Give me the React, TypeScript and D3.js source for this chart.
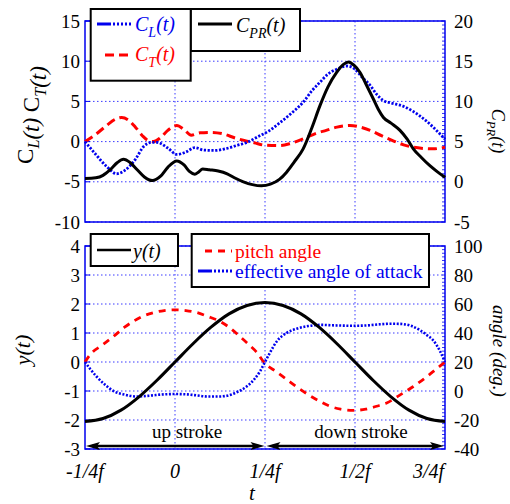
import React from "react";
import * as d3 from "d3";

// ---------- DATA (t in units of 1/f) ----------
const xTickVals = [-0.25, 0, 0.25, 0.5, 0.75];
const xTickLabels = ["-1/4f", "0", "1/4f", "1/2f", "3/4f"];
const topLeftTicks = [-10, -5, 0, 5, 10, 15];
const topRightTicks = [-5, 0, 5, 10, 15, 20];
const botLeftTicks = [-3, -2, -1, 0, 1, 2, 3, 4];
const botRightTicks = [-40, -20, 0, 20, 40, 60, 80, 100];

const CL: [number, number][] = [
  [-0.25, 0], [-0.22, -1.6], [-0.19, -3.1], [-0.162, -4.0], [-0.14, -3.6], [-0.11, -2.2],
  [-0.087, -0.6], [-0.065, -0.1], [-0.05, -0.1], [-0.02, -0.8], [0.005, -1.6], [0.03, -1.3],
  [0.055, -0.75], [0.08, -1.05], [0.11, -1.1], [0.14, -0.9], [0.17, -0.5], [0.2, -0.1],
  [0.23, 0.6], [0.26, 1.3], [0.29, 2.3], [0.32, 3.4], [0.356, 4.9], [0.38, 6.3], [0.403, 7.4],
  [0.425, 8.4], [0.449, 9.0], [0.477, 9.4], [0.5, 9.0], [0.52, 8.0], [0.542, 7.0], [0.56, 5.9],
  [0.579, 5.1], [0.6, 4.8], [0.634, 4.4], [0.66, 3.8], [0.68, 3.2], [0.7, 2.5], [0.717, 1.8],
  [0.735, 1.0], [0.75, 0.3],
];
const CT: [number, number][] = [
  [-0.25, 0], [-0.22, 0.9], [-0.19, 2.0], [-0.165, 2.8], [-0.148, 3.0], [-0.13, 2.7],
  [-0.11, 1.8], [-0.09, 0.7], [-0.075, 0.15], [-0.06, 0.0], [-0.04, 0.5], [-0.02, 1.4],
  [0.005, 2.0], [0.025, 1.5], [0.045, 0.8], [0.07, 1.1], [0.1, 1.15], [0.13, 1.0],
  [0.17, 0.4], [0.2, 0.05], [0.22, -0.15], [0.25, -0.45], [0.29, -0.5], [0.32, -0.25],
  [0.356, 0.34], [0.39, 1.0], [0.42, 1.4], [0.45, 1.8], [0.486, 2.0], [0.515, 1.8],
  [0.542, 1.4], [0.575, 0.7], [0.606, 0.1], [0.635, -0.4], [0.662, -0.7], [0.69, -0.85],
  [0.717, -0.9], [0.75, -0.7],
];
// C_PR on the right axis
const CPR: [number, number][] = [
  [-0.25, 0.4], [-0.22, 0.5], [-0.2, 0.8], [-0.18, 1.5], [-0.16, 2.4], [-0.143, 2.8],
  [-0.125, 2.4], [-0.105, 1.5], [-0.085, 0.6], [-0.063, 0.15], [-0.04, 0.7], [-0.02, 1.8],
  [0.005, 2.6], [0.025, 2.1], [0.04, 1.3], [0.055, 0.95], [0.065, 1.2], [0.077, 1.6],
  [0.095, 1.5], [0.12, 1.35], [0.145, 1.0], [0.165, 0.5], [0.19, 0.0], [0.215, -0.35],
  [0.24, -0.5], [0.265, -0.3], [0.29, 0.3], [0.31, 1.2], [0.33, 2.4], [0.356, 4.1],
  [0.38, 6.7], [0.403, 9.5], [0.425, 11.8], [0.449, 13.6], [0.468, 14.6], [0.482, 14.9],
  [0.497, 14.5], [0.514, 13.6], [0.53, 12.2], [0.551, 10.3], [0.565, 9.0], [0.579, 8.0],
  [0.6, 7.3], [0.625, 6.4], [0.645, 5.3], [0.662, 4.1], [0.685, 3.0], [0.708, 2.0],
  [0.73, 1.2], [0.75, 0.55],
];
const Y: [number, number][] = [
  [-0.25, -2.05], [-0.2, -1.95], [-0.15, -1.66], [-0.1, -1.2], [-0.05, -0.63], [0, 0],
  [0.05, 0.63], [0.1, 1.2], [0.15, 1.66], [0.2, 1.95], [0.25, 2.05], [0.3, 1.95],
  [0.35, 1.66], [0.4, 1.2], [0.45, 0.63], [0.5, 0], [0.55, -0.63], [0.6, -1.2],
  [0.65, -1.66], [0.7, -1.95], [0.75, -2.05],
];
const PITCH: [number, number][] = [
  [-0.25, 20], [-0.236, 25], [-0.2, 32], [-0.171, 37.6], [-0.14, 44], [-0.116, 48],
  [-0.09, 51.5], [-0.06, 54], [-0.03, 55.5], [0, 56], [0.03, 55.5], [0.062, 54],
  [0.09, 51.5], [0.125, 48], [0.15, 44], [0.18, 37.6], [0.205, 32], [0.226, 27],
  [0.25, 19], [0.28, 13.5], [0.31, 8], [0.34, 2.5], [0.37, -2.5], [0.403, -7.2],
  [0.43, -10.5], [0.46, -12.5], [0.495, -13.4], [0.53, -12.5], [0.56, -10.5],
  [0.588, -8.3], [0.62, -3.5], [0.662, 3.1], [0.7, 10], [0.725, 15], [0.75, 20],
];
const AOA: [number, number][] = [
  [-0.25, 20], [-0.235, 15], [-0.218, 10], [-0.195, 4.5], [-0.171, 0], [-0.14, -2.5],
  [-0.106, -3.8], [-0.07, -3.2], [-0.03, -2.3], [0, -2.1], [0.03, -2.3], [0.06, -3.0],
  [0.09, -3.8], [0.12, -3.8], [0.144, -3.3], [0.17, -1], [0.199, 3.1], [0.22, 8],
  [0.236, 13.5], [0.25, 20], [0.265, 27], [0.282, 34], [0.31, 40], [0.338, 43],
  [0.37, 44.8], [0.403, 45.6], [0.45, 45.2], [0.495, 45], [0.53, 45.2], [0.57, 46],
  [0.6, 46.4], [0.625, 46.3], [0.655, 45], [0.68, 42], [0.7, 38.5], [0.717, 35],
  [0.735, 28], [0.75, 20],
];

const BLUE = "#0000ee";
const GRID = "#3a3aff";
const RED = "#ff0000";
const FONT = "Liberation Serif";

export default function App() {
  const L = 85, R = 445;
  const x = d3.scaleLinear().domain([-0.25, 0.75]).range([L, R]);
  const yTL = d3.scaleLinear().domain([-10, 15]).range([222, 21]);
  const yTR = d3.scaleLinear().domain([-5, 20]).range([222, 21]);
  const yBL = d3.scaleLinear().domain([-3, 4]).range([449, 246]);
  const yBR = d3.scaleLinear().domain([-40, 100]).range([449, 246]);

  const mk = (ys: d3.ScaleLinear<number, number>) =>
    d3.line<[number, number]>().x((d) => x(d[0])).y((d) => ys(d[1])).curve(d3.curveMonotoneX);

  const T = (props: any) => <text {...props} style={{ fontFamily: FONT }} />;

  const frame = (yl: d3.ScaleLinear<number, number>, leftTicks: number[], yr: d3.ScaleLinear<number, number>, rightTicks: number[], minorStep: number, key: string) => {
    const [b, t] = yl.range();
    const rdom = yr.domain();
    const minors = d3.range(rdom[0], rdom[1] + 1e-9, minorStep);
    return (
      <g key={key}>
        {leftTicks.map((v) => (
          <line key={"h" + v} x1={L} x2={R} y1={yl(v)} y2={yl(v)} stroke={GRID} strokeWidth={1} strokeDasharray="1.5,2.5" />
        ))}
        {xTickVals.slice(1, -1).map((v) => (
          <line key={"v" + v} x1={x(v)} x2={x(v)} y1={t} y2={b} stroke={GRID} strokeWidth={1} strokeDasharray="1.5,2.5" />
        ))}
        {minors.map((v) => (
          <line key={"m" + v} x1={R - 3} x2={R} y1={yr(v)} y2={yr(v)} stroke={BLUE} strokeWidth={0.8} />
        ))}
        {leftTicks.map((v) => (
          <line key={"lt" + v} x1={L} x2={L + 5} y1={yl(v)} y2={yl(v)} stroke={BLUE} strokeWidth={1} />
        ))}
        <rect x={L} y={t} width={R - L} height={b - t} fill="none" stroke={BLUE} strokeWidth={1.5} />
        {leftTicks.map((v) => (
          <T key={"tl" + v} x={80} y={yl(v)} dy="0.35em" textAnchor="end" fontSize={19}>{v}</T>
        ))}
        {rightTicks.map((v) => (
          <T key={"tr" + v} x={454} y={yr(v)} dy="0.35em" textAnchor="start" fontSize={19}>{v}</T>
        ))}
      </g>
    );
  };

  const arrow = (x1: number, x2: number, y: number) => {
    const hl = 14, hw = 4;
    return (
      <g>
        <line x1={x1 + 6} x2={x2 - 6} y1={y} y2={y} stroke="#000" strokeWidth={2.5} />
        <path d={`M${x1},${y} L${x1 + hl},${y - hw} L${x1 + hl - 3},${y} L${x1 + hl},${y + hw} Z`} fill="#000" />
        <path d={`M${x2},${y} L${x2 - hl},${y - hw} L${x2 - hl + 3},${y} L${x2 - hl},${y + hw} Z`} fill="#000" />
      </g>
    );
  };

  const sub = (main: string, s: string, rest: string, fs: number, italicSub = false) => (
    <>
      {main}
      <tspan fontSize={fs * 0.7} dy={fs * 0.28} fontStyle={italicSub ? "italic" : undefined}>{s}</tspan>
      <tspan dy={-fs * 0.28}>{rest}</tspan>
    </>
  );

  return (
    <svg width={510} height={504} style={{ position: "absolute", left: 0, top: 0, background: "#fff", fontFamily: FONT }}>
      <rect width={510} height={504} fill="#fff" />
      {frame(yTL, topLeftTicks, yTR, topRightTicks, 0.5, "top")}
      {frame(yBL, botLeftTicks, yBR, botRightTicks, 2.5, "bot")}

      {/* top curves */}
      <path d={mk(yTL)(CT) ?? ""} fill="none" stroke={RED} strokeWidth={3} strokeDasharray="9,5" />
      <path d={mk(yTL)(CL) ?? ""} fill="none" stroke={BLUE} strokeWidth={2.8} strokeDasharray="2.2,1.6" />
      <path d={mk(yTR)(CPR) ?? ""} fill="none" stroke="#000" strokeWidth={3} />

      {/* bottom curves */}
      <path d={mk(yBR)(PITCH) ?? ""} fill="none" stroke={RED} strokeWidth={2.8} strokeDasharray="7,6" />
      <path d={mk(yBR)(AOA) ?? ""} fill="none" stroke={BLUE} strokeWidth={2.6} strokeDasharray="2,1.6" />
      <path d={mk(yBL)(Y) ?? ""} fill="none" stroke="#000" strokeWidth={3} />

      {/* arrows */}
      {arrow(x(-0.25) + 1, x(0.25) - 0.5, 446)}
      {arrow(x(0.25) + 1.5, x(0.75) - 1, 446)}
      <T x={187} y={438} textAnchor="middle" fontSize={19}>up stroke</T>
      <T x={361} y={438} textAnchor="middle" fontSize={19}>down stroke</T>

      {/* x tick labels */}
      {xTickVals.map((v, i) => (
        <T key={"xl" + v} x={i === xTickVals.length - 1 ? x(v) - 1 : x(v)} y={478}
          textAnchor={i === xTickVals.length - 1 ? "end" : "middle"} fontSize={20} fontStyle="italic">{xTickLabels[i]}</T>
      ))}
      <T x={252} y={500} textAnchor="middle" fontSize={21} fontStyle="italic">t</T>

      {/* axis titles */}
      <T transform="translate(33,115) rotate(-90)" textAnchor="middle" fontSize={23}>
        {sub("C", "L", "", 23, true)}<tspan fontStyle="italic">(t)</tspan>{"  "}{sub("C", "T", "", 23, true)}<tspan fontStyle="italic">(t)</tspan>
      </T>
      <T transform="translate(492,131) rotate(90)" textAnchor="middle" fontSize={18} fontStyle="italic">
        {sub("C", "PR", "(t)", 18)}
      </T>
      <T transform="translate(30,350) rotate(-90)" textAnchor="middle" fontSize={22} fontStyle="italic">y(t)</T>
      <T transform="translate(493,351) rotate(90)" textAnchor="middle" fontSize={19} fontStyle="italic">angle (deg.)</T>

      {/* top legends */}
      <rect x={190.7} y={9} width={109.3} height={42} fill="#fff" stroke="#000" strokeWidth={2} />
      <line x1={198} x2={232} y1={24} y2={24} stroke="#000" strokeWidth={3} />
      <T x={236} y={32} fontSize={20} fontStyle="italic">{sub("C", "PR", "(t)", 20)}</T>

      <rect x={90.7} y={9} width={100} height={71.7} fill="#fff" stroke="#000" strokeWidth={2} />
      <line x1={97} x2={131} y1={24} y2={24} stroke={BLUE} strokeWidth={2.8} strokeDasharray="14,2,2,2,2,2,2,2,2,2,2" />
      <T x={135} y={31} fontSize={20} fontStyle="italic" fill={BLUE}>{sub("C", "L", "(t)", 20)}</T>
      <line x1={105} x2={131} y1={55} y2={55} stroke={RED} strokeWidth={3} strokeDasharray="9,5" />
      <T x={135} y={61} fontSize={20} fontStyle="italic" fill={RED}>{sub("C", "T", "(t)", 20)}</T>

      {/* bottom legends */}
      <rect x={90.7} y={234} width={87.3} height={32} fill="#fff" stroke="#000" strokeWidth={2} />
      <line x1={97} x2={131} y1={250} y2={250} stroke="#000" strokeWidth={2.5} />
      <T x={133} y={258} fontSize={20} fontStyle="italic">y(t)</T>

      <rect x={191.7} y={234} width={237.3} height={53} fill="#fff" stroke="#000" strokeWidth={2} />
      <line x1={205} x2={232} y1={251} y2={251} stroke={RED} strokeWidth={2.8} strokeDasharray="7,6" />
      <T x={235} y={258} fontSize={19.5} fill={RED}>pitch angle</T>
      <line x1={198} x2={232} y1={271} y2={271} stroke={BLUE} strokeWidth={2.8} strokeDasharray="14,2,2,2,2,2,2,2,2,2,2" />
      <T x={235} y={278} fontSize={19.5} fill={BLUE}>effective angle of attack</T>
    </svg>
  );
}
